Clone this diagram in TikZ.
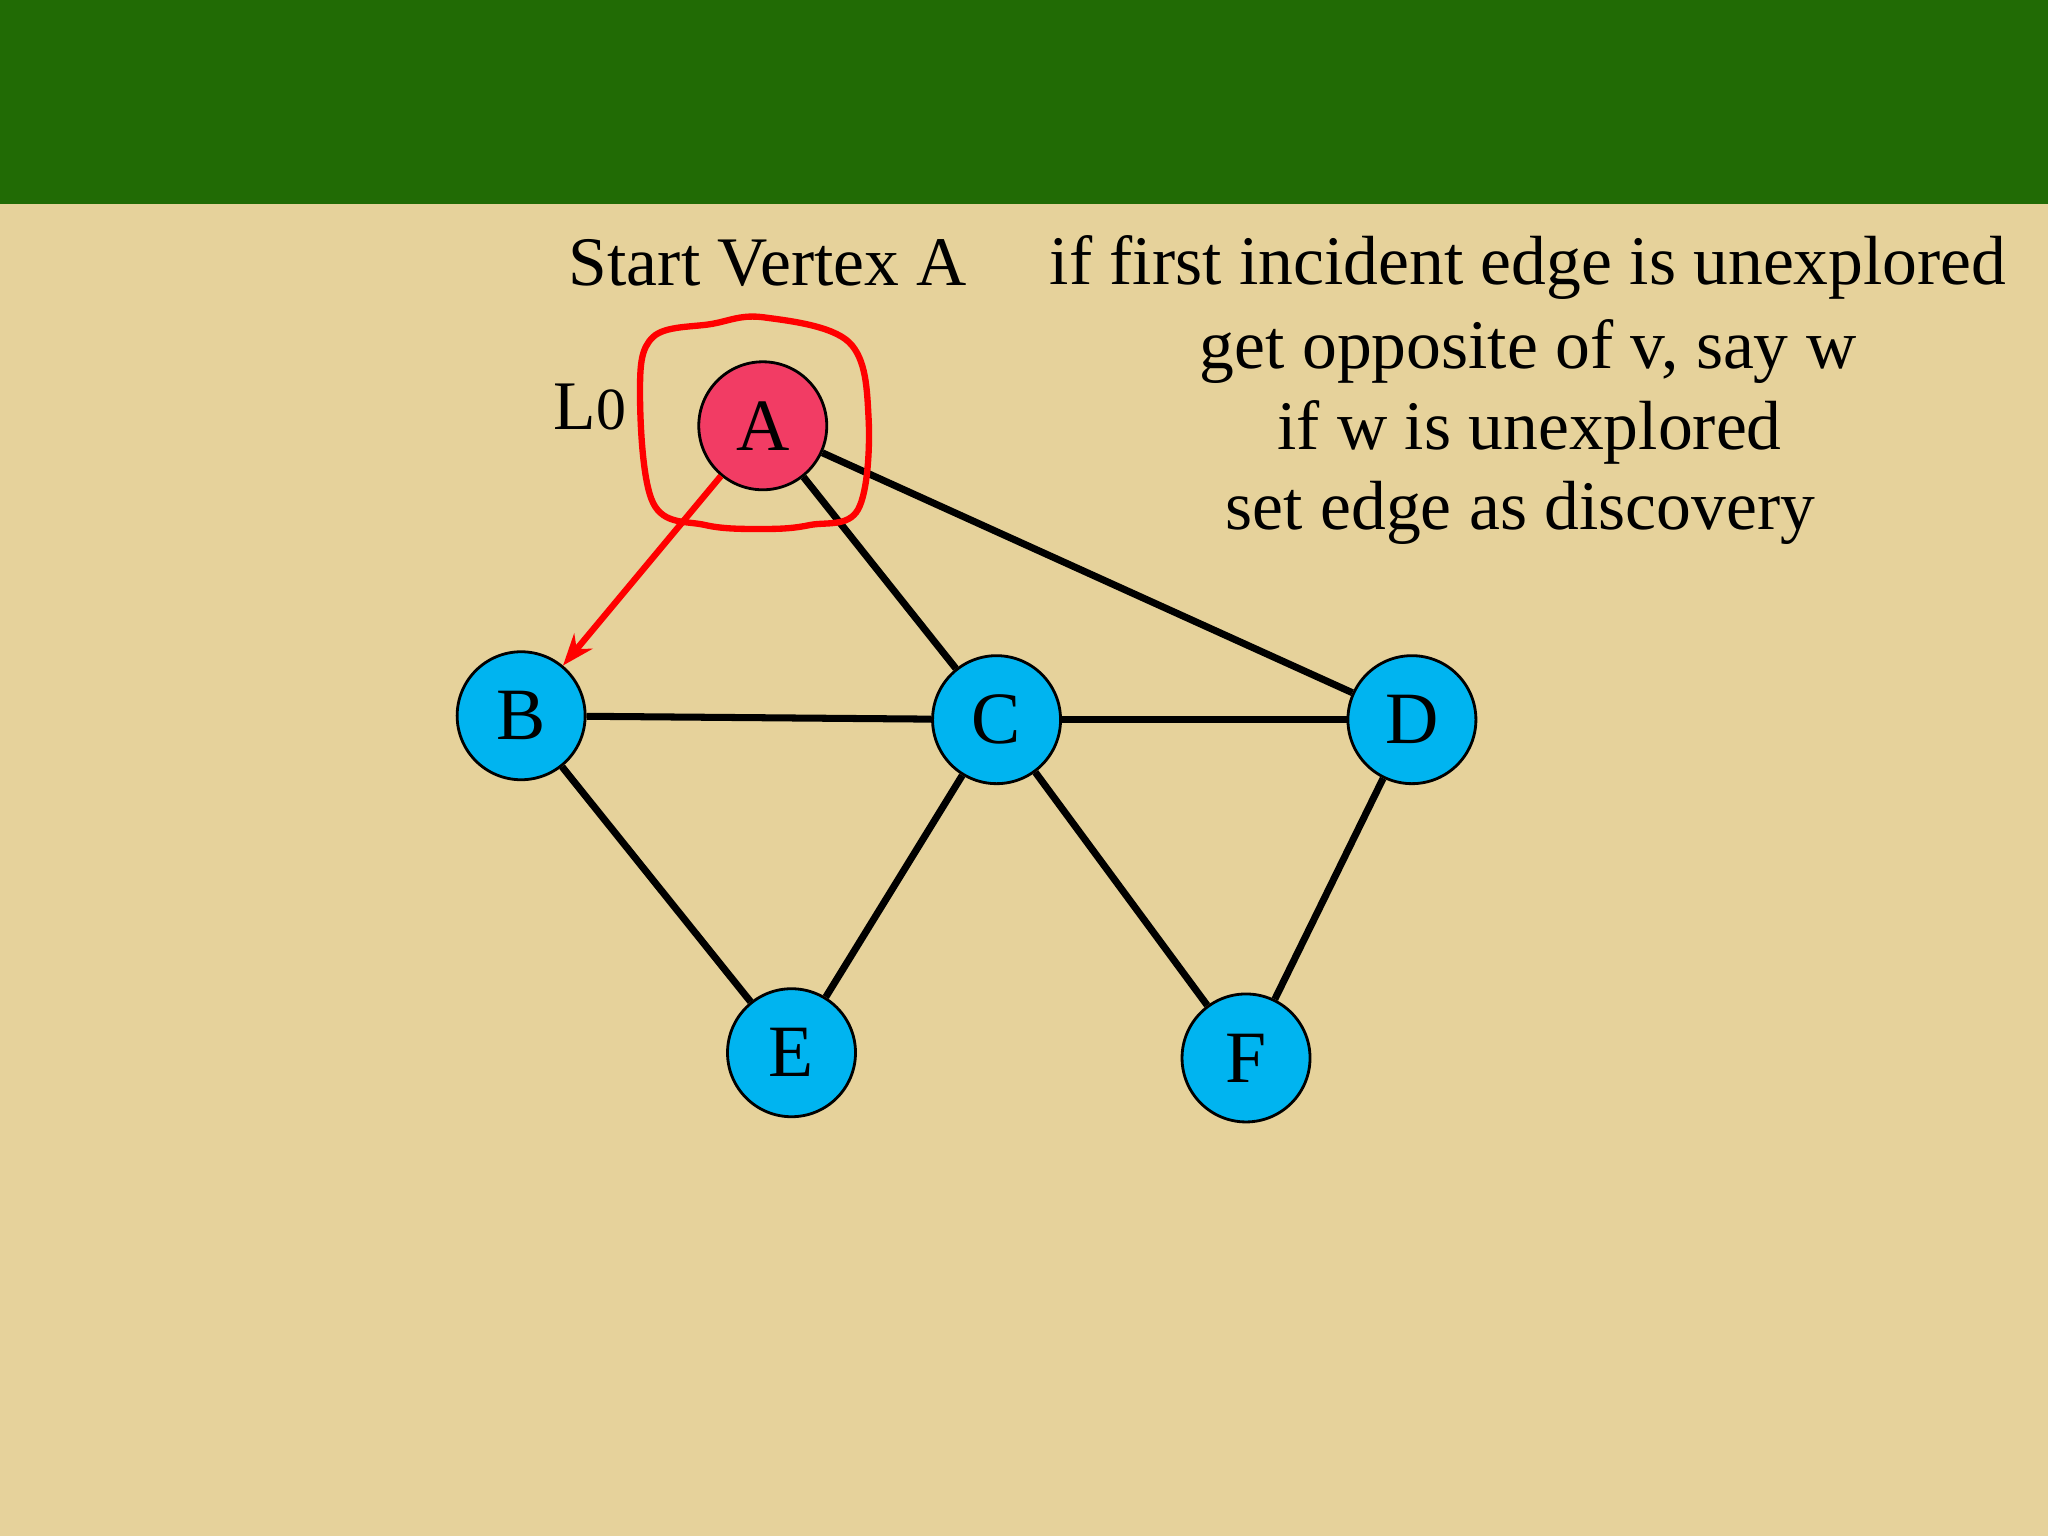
\documentclass[tikz,border=0pt]{standalone}
\usepackage{fontspec}
\setmainfont{Liberation Serif}
\usetikzlibrary{arrows.meta}
\definecolor{bg}{HTML}{E6D29B}
\definecolor{bar}{HTML}{216B05}
\definecolor{vblue}{HTML}{00B4F0}
\definecolor{vred}{HTML}{F23C64}
\tikzset{
  vtx/.style={circle,draw=black,line width=0.8pt,minimum size=1.28cm,inner sep=0pt,font=\fontsize{21}{25}\selectfont},
  edge/.style={line width=2pt,black},
  lbl/.style={font=\fontsize{19.8}{24}\selectfont,inner sep=0pt}
}
\begin{document}
\begin{tikzpicture}[x=0.013061cm,y=-0.013061cm]
\fill[bg] (0,0) rectangle (1568,1176);
\useasboundingbox (0,0) rectangle (1568,1176);
\fill[bar] (0,0) rectangle (1568,156);
\node[vtx,fill=vred] (A) at (584,326) {A};
\node[vtx,fill=vblue] (B) at (399,548) {B};
\node[vtx,fill=vblue] (C) at (763,551) {C};
\node[vtx,fill=vblue] (D) at (1081,551) {D};
\node[vtx,fill=vblue] (E) at (606,806) {E};
\node[vtx,fill=vblue] (F) at (954,810) {F};
\draw[edge] (A) -- (C);
\draw[edge] (A) -- (D);
\draw[edge] (B) -- (C);
\draw[edge] (C) -- (D);
\draw[edge] (B) -- (E);
\draw[edge] (C) -- (E);
\draw[edge] (C) -- (F);
\draw[edge] (D) -- (F);
\draw[red,line width=1.8pt,-{Stealth[length=9pt]}] (A) -- (B);
\draw[red,line width=1.8pt] plot[smooth cycle,tension=0.6] coordinates {(585,243) (650,262) (665,320) (657,390) (620,402) (585,405) (540,402) (500,385) (490,300) (500,258) (545,248)};
\node[lbl] (start) at (588,201) {Start Vertex A};
\node[lbl,anchor=east] (L0) at (480,312) {L{\fontsize{17}{20}\selectfont 0}};
\node[lbl] (t1) at (1170,205) {if first incident edge is unexplored};
\node[lbl] (t2) at (1170,269) {get opposite of v, say w};
\node[lbl] (t3) at (1171,331) {if w is unexplored};
\node[lbl] (t4) at (1164,393) {set edge as discovery};
\end{tikzpicture}
\end{document}
